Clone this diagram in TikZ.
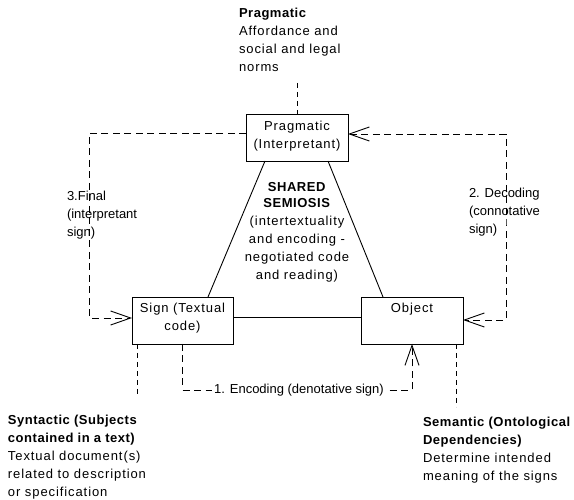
\documentclass[tikz,border=0pt]{standalone}
\usepackage{fontspec}
\setmainfont{Liberation Sans}[LetterSpace=7, BoldFeatures={LetterSpace=4}]
\usetikzlibrary{arrows.meta}
\begin{document}
\begin{tikzpicture}[x=1pt,y=-1pt,
  every node/.style={font=\fontsize{13}{18}\selectfont, inner sep=0pt, outer sep=0pt},
  plain/.style={font=\fontsize{13}{18}\selectfont\addfontfeatures{LetterSpace=0}},
  box/.style={draw, line width=0.9pt, minimum width=102pt, minimum height=47pt},
  link/.style={line width=0.9pt},
  flow/.style={line width=0.9pt, dash pattern=on 7pt off 4.5pt},
  note/.style={line width=0.9pt, dash pattern=on 5pt off 4pt},
  barb/.tip={Straight Barb[length=20pt,width=14pt]},
  txt/.style={align=left, anchor=north west}]
\useasboundingbox (0,0) rectangle (574,500);

% the three corners of the triangle
\node[box] (prag) at (297,137.5) {};
\node[box, minimum width=101pt] (sign) at (182.5,320.5) {};
\node[box] (obj) at (412,320.5) {};

\node[anchor=north, align=center] (pragtxt) at ([yshift=-7pt]prag.north) {Pragmatic\\(Interpretant)};
\node[anchor=north, align=center] (signtxt) at ([yshift=-6pt]sign.north) {Sign (Textual\\code)};
\node[anchor=north, align=center] (objtxt) at ([yshift=-6pt]obj.north) {Object};

% triangle sides
\draw[link] ([xshift=-32pt]prag.south) -- ([xshift=25.5pt]sign.north);
\draw[link] ([xshift=31pt]prag.south) -- ([xshift=-29pt]obj.north);
\draw[link] ([yshift=3.5pt]sign.east) -- ([yshift=3.5pt]obj.west);

% centre text
\node[anchor=north, align=center] (shared) at (297,182)
  {\textbf{SHARED}\\[-2pt]\textbf{SEMIOSIS}\\(intertextuality\\and encoding -\\negotiated code\\and reading)};

% 3. interpretant loop on the left
\coordinate (lc) at (89,225);
\draw[flow, -barb] ([yshift=4.5pt]prag.west) -| (lc) |- ([yshift=2.5pt]sign.west);
\node[txt, plain] (final) at (67,191) {3.Final\\(interpretant\\sign)};

% 2. decoding loop on the right
\coordinate (rc) at (506,225);
\draw[flow, barb-barb] ([yshift=3.5pt]prag.east) -| (rc) |- ([yshift=0.5pt]obj.east);
\node[txt, plain] (decoding) at (469,188) {2. Decoding\\(connotative\\sign)};

% 1. encoding path along the bottom
\coordinate (bc) at (299,390);
\draw[flow, -barb] (sign.south) |- (bc) -| (obj.south);
\node[plain, fill=white, inner xsep=2pt, inner ysep=1pt] (encoding) at (bc) {1. Encoding (denotative sign)};

% annotation leaders
\coordinate (topend) at (297,83);
\draw[note] (topend) -- (prag.north);
\coordinate (blend) at (137,397);
\draw[note] ([xshift=5pt]sign.south west) -- (blend);
\coordinate (brend) at (456,407);
\draw[note] ([xshift=-7pt]obj.south east) -- (brend);

% annotations
\node[txt] (pragnote) at (239,8) {\textbf{Pragmatic}\\Affordance and\\social and legal\\norms};
\node[txt] (synnote) at (8,415) {\textbf{Syntactic (Subjects}\\\textbf{contained in a text)}\\Textual document(s)\\related to description\\or specification};
\node[txt] (semnote) at (423,417) {\textbf{Semantic (Ontological}\\\textbf{Dependencies)}\\Determine intended\\meaning of the signs};
\end{tikzpicture}
\end{document}
